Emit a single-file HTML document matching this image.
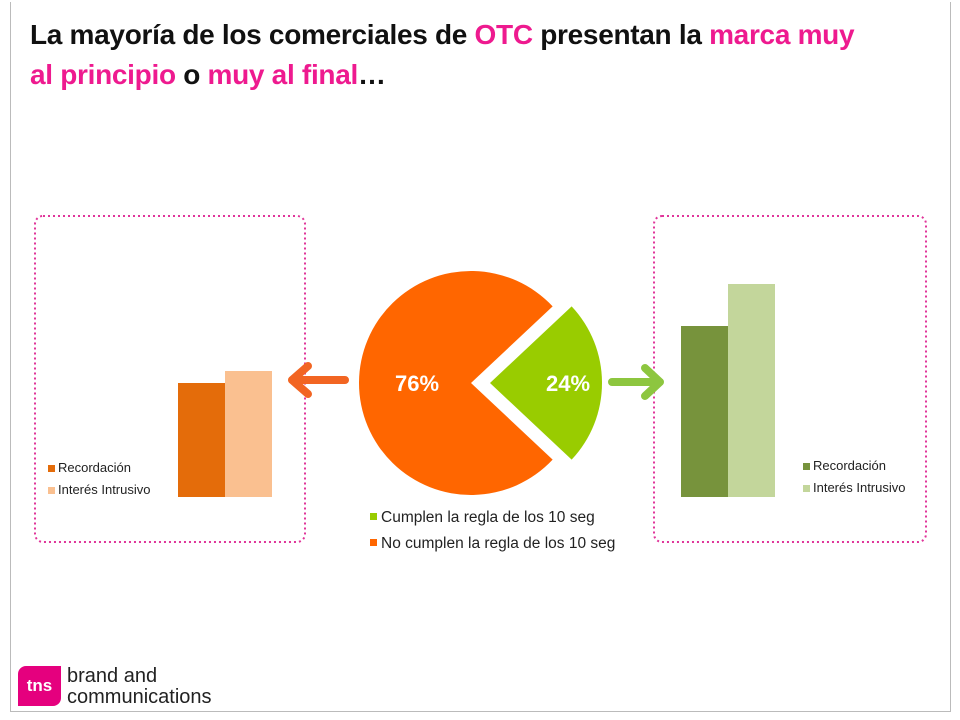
<!DOCTYPE html>
<html><head><meta charset="utf-8"><style>
body{margin:0;width:960px;height:720px;background:#fff;overflow:hidden;font-family:"Liberation Sans",sans-serif;position:relative}
.t{position:absolute;left:30px;font-weight:bold;font-size:28px;color:#111;letter-spacing:-0.3px}
.p{color:#ee1a8f}
</style></head><body>
<div style="position:absolute;left:10px;top:2px;width:939px;height:709px;border:1px solid #bbb;border-top:none"></div>
<div class="t" style="top:19px">La mayoría de los comerciales de <span class="p">OTC</span> presentan la <span class="p">marca muy</span></div>
<div class="t" style="top:59px"><span class="p">al principio</span> o <span class="p">muy al final</span>…</div>
<svg id="c" width="960" height="720" style="position:absolute;left:0;top:0"></svg>
<div style="position:absolute;left:18px;top:666px;width:43px;height:40px;background:#e5007e;border-radius:8px 0 8px 0;color:#fff;font-size:17px;font-weight:bold;line-height:40px;text-align:center">tns</div>
<div style="position:absolute;left:67px;top:666px;font-size:20px;line-height:21px;color:#222">brand and<br>communications</div>
<script>
const pieLabels=["No cumplen la regla de los 10 seg","Cumplen la regla de los 10 seg"];
const pieValues=[76,24];
const barCats=["Recordación","Interés Intrusivo"];
const leftValues=[38,42];
const rightValues=[57,71];
const NS="http://www.w3.org/2000/svg";
const svg=document.getElementById('c');
function mk(t,a,p){const e=document.createElementNS(NS,t);for(const k in a)e.setAttribute(k,a[k]);(p||svg).appendChild(e);return e;}
const b1=mk('rect',{x:35,y:216,width:270,height:326,rx:8,fill:'none',stroke:'#e0359a','stroke-width':2,'stroke-dasharray':'2 3'});


const b2=mk('rect',{x:654,y:216,width:272,height:326,rx:8,fill:'none',stroke:'#e0359a','stroke-width':2,'stroke-dasharray':'2 3'});


const base=497,k=3;
function y(v){return base-v*k;}
function bars(vals,x0,cols,prefix){
 vals.forEach((v,i)=>{const r=mk('rect',{x:x0+i*47,y:y(v),width:47,height:base-y(v),fill:cols[i]});
 
 });
}
bars(leftValues,178,['#e46c0a','#fac090'],'left');
bars(rightValues,681,['#77933c','#c3d69b'],'right');
function legend(x,yy,cols,prefix){
 barCats.forEach((c,i)=>{mk('rect',{x:x,y:yy+i*22-7,width:7,height:7,fill:cols[i]});
 const t=mk('text',{x:x+10,y:yy+i*22,'font-size':13,fill:'#222'});t.textContent=c;
 
 });
}
legend(48,472,['#e46c0a','#fac090'],'left');
legend(803,470,['#77933c','#c3d69b'],'right');
const cx=471,cy=383,R=112,pieCols=['#ff6600','#99cc00'];
const tot=pieValues.reduce((a,b)=>a+b,0);
const gAng=pieValues[1]/tot*2*Math.PI;
let slices=[{s:gAng/2,e:2*Math.PI-gAng/2,off:0},{s:-gAng/2,e:gAng/2,off:19}];
slices.forEach((s,i)=>{
 const ox=cx+s.off;
 const x1=ox+R*Math.cos(s.s),y1=cy+R*Math.sin(s.s),x2=ox+R*Math.cos(s.e),y2=cy+R*Math.sin(s.e);
 const large=(s.e-s.s)>Math.PI?1:0;
 const p=mk('path',{d:`M${ox},${cy}L${x1},${y1}A${R},${R} 0 ${large} 1 ${x2},${y2}Z`,fill:pieCols[i]});
 
 
 const t=mk('text',{x:i==0?417:568,y:cy+8,'font-size':22,'font-weight':'bold',fill:'#fff','text-anchor':'middle'});
 t.textContent=pieValues[i]+'%';
 
 
});
[1,0].forEach((i,j)=>{mk('rect',{x:370,y:513+j*26,width:7,height:7,fill:pieCols[i]});
 const t=mk('text',{x:381,y:522+j*26,'font-size':15.5,fill:'#222'});t.textContent=pieLabels[i];
 
 });
const a1=mk('path',{d:'M345,380H292M308,366L292,380L308,394',stroke:'#f26522','stroke-width':8,fill:'none','stroke-linecap':'round','stroke-linejoin':'round'});


const a2=mk('path',{d:'M612,382H660M645,368L660,382L645,396',stroke:'#8dc63f','stroke-width':8,fill:'none','stroke-linecap':'round','stroke-linejoin':'round'});


</script>
</body></html>
